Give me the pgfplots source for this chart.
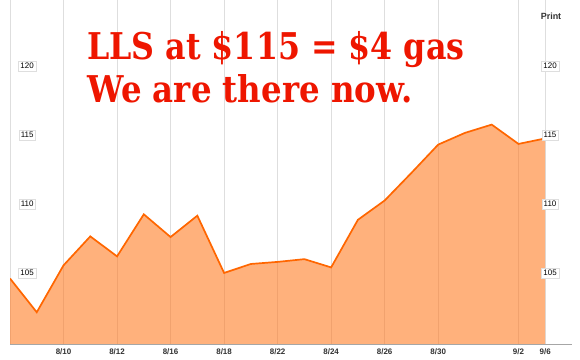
\documentclass[border=0pt]{standalone}
\usepackage{pgfplots}
\pgfplotsset{compat=1.18}
\usepackage{fontspec}
\setmainfont{Liberation Sans}
\newfontfamily\titlefont{DejaVu Serif}
\definecolor{fillorange}{RGB}{255,120,30}
\definecolor{lineorange}{RGB}{255,102,0}
\definecolor{gridgray}{RGB}{222,222,222}
\definecolor{boxgray}{RGB}{222,222,222}
\definecolor{titlered}{RGB}{238,22,0}
\definecolor{labgray}{RGB}{50,50,50}
\begin{document}
\begin{tikzpicture}
\begin{axis}[
  scale only axis,
  width=562bp, height=344bp,
  xmin=0, xmax=21, ymin=100, ymax=124.93,
  axis x line=bottom, axis y line=none,
  x axis line style={-, draw=gray!70, line width=0.8bp},
  xtick={0,2,4,6,8,10,12,14,16,19,20},
  xticklabels={,8/10,8/12,8/16,8/18,8/22,8/24,8/26,8/30,9/2,9/6},
  ytick={105,110,115,120},
  yticklabels={},
  major tick length=0pt,
  xmajorgrids, ymajorgrids,
  grid style={gridgray, line width=1bp},
  xticklabel style={font=\fontsize{8}{9}\selectfont\bfseries, text=labgray, anchor=center, yshift=-7.5bp},
  clip=true,
]
\addplot[draw=none, fill=fillorange, fill opacity=0.58] coordinates {
(0,104.75) (1,102.3) (2,105.7) (3,107.8) (4,106.35) (5,109.4) (6,107.75) (7,109.3)
(8,105.15) (9,105.8) (10,105.95) (11,106.15) (12,105.55) (13,109.0) (14,110.4)
(15,112.4) (16,114.45) (17,115.3) (18,115.9) (19,114.5) (20,114.9)
} \closedcycle;
\addplot[draw=lineorange, line width=1.7bp, line join=miter] coordinates {
(0,104.75) (1,102.3) (2,105.7) (3,107.8) (4,106.35) (5,109.4) (6,107.75) (7,109.3)
(8,105.15) (9,105.8) (10,105.95) (11,106.15) (12,105.55) (13,109.0) (14,110.4)
(15,112.4) (16,114.45) (17,115.3) (18,115.9) (19,114.5) (20,114.9)
};
\foreach \v in {105,110,115,120}{
  \edef\tmp{\noexpand\node[font=\noexpand\fontsize{8}{9}\noexpand\selectfont, fill=white, draw=boxgray, inner xsep=2bp, inner ysep=2bp, yshift=2bp] at (axis cs:0.64,\v) {\v};
  \noexpand\node[font=\noexpand\fontsize{8}{9}\noexpand\selectfont, fill=white, draw=boxgray, inner xsep=2bp, inner ysep=2bp, yshift=2bp] at (axis cs:20.18,\v) {\v};}
  \tmp
}
\end{axis}
\node[anchor=base west, text=titlered, font=\titlefont\bfseries\fontsize{37}{37}\selectfont, inner sep=0pt]
  at ([shift={(77bp,284bp)}]current axis.south west) {\scalebox{0.86}[1]{LLS at \$115 = \$4 gas}};
\node[anchor=base west, text=titlered, font=\titlefont\bfseries\fontsize{37}{37}\selectfont, inner sep=0pt]
  at ([shift={(77bp,241bp)}]current axis.south west) {\scalebox{0.88}[1]{We are there now.}};
\node[anchor=center, text=labgray, font=\fontsize{9}{10}\selectfont\bfseries]
  at ([shift={(541bp,328bp)}]current axis.south west) {Print};
\pgfresetboundingbox
\useasboundingbox ([shift={(-10bp,-16bp)}]current axis.south west) rectangle ([shift={(8bp,0bp)}]current axis.north east);
\end{tikzpicture}
\end{document}
